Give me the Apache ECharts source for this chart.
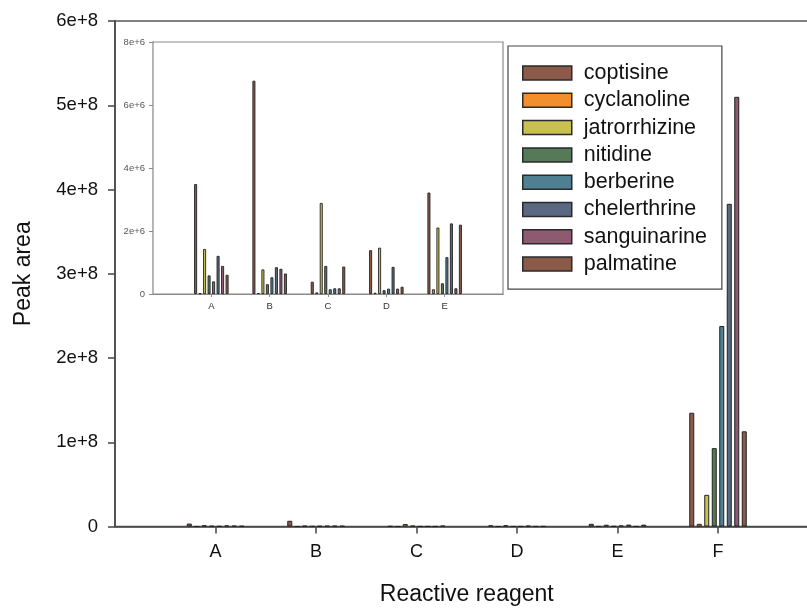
<!DOCTYPE html>
<html>
<head>
<meta charset="utf-8">
<script src="https://cdn.jsdelivr.net/npm/echarts@6/dist/echarts.min.js"></script>
<style>html,body{margin:0;padding:0;background:#fff}#c{width:807px;height:611px}</style>
</head>
<body>
<div id="c"></div>
<script>
// Categories (reactive reagents)
const categories = ['A', 'B', 'C', 'D', 'E', 'F'];
const insetCategories = ['A', 'B', 'C', 'D', 'E'];
// Series names
const seriesNames = ['coptisine', 'cyclanoline', 'jatrorrhizine', 'nitidine', 'berberine', 'chelerthrine', 'sanguinarine', 'palmatine'];
// Peak area values per compound for A..F
const coptisine     = [3.49e6, 6.77e6, 0.39e6, 1.39e6, 3.22e6, 1.35e8];
const cyclanoline   = [0.02e6, 0.03e6, 0.05e6, 0.04e6, 0.15e6, 3.2e6];
const jatrorrhizine = [1.43e6, 0.78e6, 2.89e6, 1.47e6, 2.11e6, 3.76e7];
const nitidine      = [0.59e6, 0.31e6, 0.89e6, 0.12e6, 0.34e6, 9.3e7];
const berberine     = [0.40e6, 0.53e6, 0.15e6, 0.17e6, 1.17e6, 2.38e8];
const chelerthrine  = [1.21e6, 0.85e6, 0.18e6, 0.86e6, 2.24e6, 3.83e8];
const sanguinarine  = [0.89e6, 0.80e6, 0.18e6, 0.17e6, 0.18e6, 5.10e8];
const palmatine     = [0.61e6, 0.65e6, 0.87e6, 0.23e6, 2.20e6, 1.13e8];
// Tick labels
const mainYLabels = ['0', '1e+8', '2e+8', '3e+8', '4e+8', '5e+8', '6e+8'];
const insetYLabels = ['0', '2e+6', '4e+6', '6e+6', '8e+6'];

const colors = ['#8B5A4A', '#F28E2B', '#C8C050', '#567A58', '#4E8092', '#5A6882', '#8D5A72', '#8A5A48'];
const seriesData = [coptisine, cyclanoline, jatrorrhizine, nitidine, berberine, chelerthrine, sanguinarine, palmatine];

const FONT = '"Liberation Sans", Arial, sans-serif';
const mainCats = [''].concat(categories, ['']);
const insetCats = [''].concat(insetCategories, ['']);

const series = [];
seriesNames.forEach((name, i) => {
  series.push({
    name: name, type: 'bar', xAxisIndex: 0, yAxisIndex: 0,
    data: [null].concat(seriesData[i], [null]),
    barWidth: 5, barGap: '50%',
    itemStyle: { color: colors[i], borderColor: '#222', borderWidth: 1 },
    emphasis: { disabled: true }
  });
});
seriesNames.forEach((name, i) => {
  series.push({
    name: name, type: 'bar', xAxisIndex: 1, yAxisIndex: 1,
    data: [null].concat(seriesData[i].slice(0, insetCategories.length), [null]),
    barWidth: 3, barGap: '50%', z: 5,
    itemStyle: { color: colors[i], borderColor: '#222', borderWidth: 0.9 },
    emphasis: { disabled: true }
  });
});

const chart = echarts.init(document.getElementById('c'), null, { renderer: 'canvas' });
chart.setOption({
  animation: false,
  textStyle: { fontFamily: FONT },
  grid: [
    { left: 115, top: 21, width: 703.5, bottom: 84.5, show: true, borderColor: '#555', borderWidth: 1.5, containLabel: false, outerBoundsMode: 'none' },
    { left: 153, top: 42, width: 350, height: 252, show: true, borderColor: '#8a8a8a', borderWidth: 1.2, backgroundColor: '#fff', z: 4, outerBoundsMode: 'none' }
  ],
  legend: {
    orient: 'vertical', left: 508, top: 46,
    padding: [16, 15, 14, 14],
    borderColor: '#444', borderWidth: 1.2, backgroundColor: '#fff',
    itemWidth: 49, itemHeight: 14, itemGap: 5.3,
    icon: 'rect',
    textStyle: { fontFamily: FONT, fontSize: 21.5, color: '#111', padding: [0, 0, 0, 7] },
    itemStyle: { borderColor: '#2a2a2a', borderWidth: 1.5 },
    data: seriesNames, selectedMode: false, z: 10
  },
  xAxis: [
    {
      type: 'category', gridIndex: 0, data: mainCats, boundaryGap: false,
      name: 'Reactive reagent', nameLocation: 'middle', nameGap: 57,
      nameTextStyle: { fontFamily: FONT, fontSize: 23, color: '#111' },
      axisLine: { lineStyle: { color: '#444', width: 1.5 } },
      axisTick: { show: true, length: 7, lineStyle: { color: '#444', width: 1.5 }, interval: (idx, v) => v !== '' },
      axisLabel: { fontFamily: FONT, fontSize: 18, color: '#111', margin: 17, interval: 0 },
      splitLine: { show: false }
    },
    {
      type: 'category', gridIndex: 1, data: insetCats, boundaryGap: false,
      axisLine: { lineStyle: { color: '#8a8a8a', width: 1.2 } },
      axisTick: { show: true, length: 3, lineStyle: { color: '#8a8a8a' }, interval: (idx, v) => v !== '' },
      axisLabel: { fontFamily: FONT, fontSize: 9.5, color: '#333', margin: 7, interval: 0 },
      splitLine: { show: false }
    }
  ],
  yAxis: [
    {
      type: 'value', gridIndex: 0, min: 0, max: 6e8, interval: 1e8,
      name: 'Peak area', nameLocation: 'middle', nameGap: 80,
      nameTextStyle: { fontFamily: FONT, fontSize: 23, color: '#111' },
      axisLine: { show: true, lineStyle: { color: '#444', width: 1.5 } },
      axisTick: { show: true, length: 7, lineStyle: { color: '#444', width: 1.5 } },
      axisLabel: { fontFamily: FONT, fontSize: 18.5, color: '#111', margin: 17, formatter: (v, i) => mainYLabels[i] },
      splitLine: { show: false }
    },
    {
      type: 'value', gridIndex: 1, min: 0, max: 8e6, interval: 2e6,
      axisLine: { show: true, lineStyle: { color: '#8a8a8a', width: 1.2 } },
      axisTick: { show: true, length: 4, lineStyle: { color: '#8a8a8a' } },
      axisLabel: { fontFamily: FONT, fontSize: 9.5, color: '#555', margin: 8, formatter: (v, i) => insetYLabels[i] },
      splitLine: { show: false }
    }
  ],
  series: series
});
</script>
</body>
</html>
